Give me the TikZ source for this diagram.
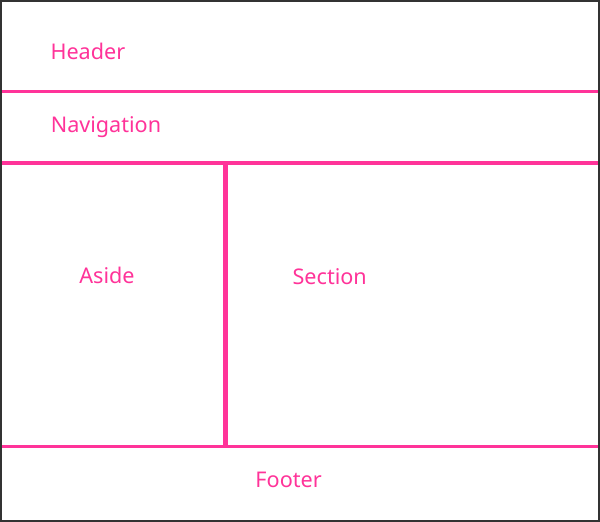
\documentclass[tikz,border=0pt]{standalone}
\usepackage{fontspec}
\setmainfont{Noto Sans}
\definecolor{pinkline}{RGB}{255,51,153}
\definecolor{frame}{RGB}{51,51,51}
\tikzset{
  lbl/.style={anchor=base, text=pinkline, font=\fontsize{21.6}{24}\selectfont, inner sep=0pt},
  divider/.style={draw=pinkline, line cap=butt},
}
\begin{document}
\begin{tikzpicture}[x=1pt,y=-1pt]
\useasboundingbox (0,0) rectangle (600,522);
\fill[white] (0,0) rectangle (600,522);
% dividers
\draw[divider, line width=3pt] (2,91.3) -- (598,91.3);
\draw[divider, line width=4pt] (2,163) -- (598,163);
\draw[divider, line width=5pt] (225.5,163) -- (225.5,446);
\draw[divider, line width=3pt] (2,446) -- (598,446);
% outer frame
\draw[frame, line width=2pt] (1,1) rectangle (599,521);
% labels
\node[lbl] (header) at (87.9,59.3) {Header};
\node[lbl] (nav) at (106,132.7) {Navigation};
\node[lbl] (aside) at (107,283.5) {Aside};
\node[lbl] (section) at (329.7,284.8) {Section};
\node[lbl] (footer) at (288.6,487.3) {Footer};
\end{tikzpicture}
\end{document}
